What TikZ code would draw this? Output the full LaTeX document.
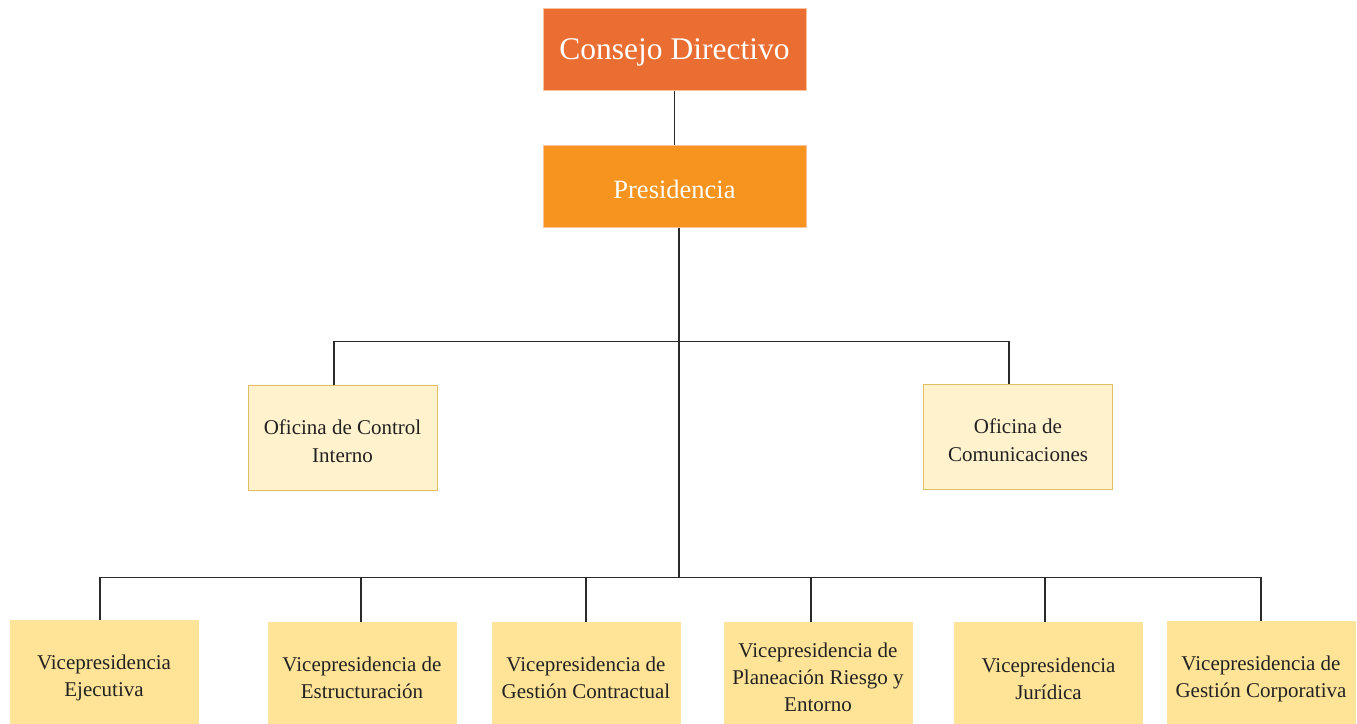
\documentclass[tikz,border=0pt]{standalone}
\usepackage{fontspec}
\setmainfont{Liberation Serif}
\definecolor{cdfill}{HTML}{EA6D31}
\definecolor{prfill}{HTML}{F79420}
\definecolor{topedge}{HTML}{F9C49C}
\definecolor{offill}{HTML}{FFF2CC}
\definecolor{ofedge}{HTML}{E0BE62}
\definecolor{vpfill}{HTML}{FFE497}
\definecolor{vpedge}{HTML}{FBE3A0}
\definecolor{linec}{HTML}{2B2B2B}
\definecolor{txt}{HTML}{222222}
\newcommand{\upst}[1]{\rule{0pt}{#1}}
\begin{document}
\begin{tikzpicture}[x=1pt,y=-1pt,
  topbox/.style={draw=topedge,line width=1pt,minimum width=263pt,minimum height=82pt,inner sep=0pt,text=white,align=center},
  ofbox/.style={draw=ofedge,fill=offill,line width=1pt,minimum width=189pt,minimum height=105pt,inner sep=0pt,text=txt,align=center,font=\fontsize{21}{28}\selectfont},
  vpbox/.style={draw=vpedge,fill=vpfill,line width=1pt,minimum width=188pt,minimum height=110pt,inner sep=0pt,text=txt,align=center,font=\fontsize{21}{27}\selectfont},
  conn/.style={draw=linec,line width=1.3pt}]
\useasboundingbox (0,0) rectangle (1357,723);
\fill[white] (0,0) rectangle (1357,723);
\begin{scope}
\clip (0,0) rectangle (1357,723);
\node[topbox,fill=cdfill,font=\fontsize{31.5}{36}\selectfont] (cd) at (674.5,49) {\upst{28pt}Consejo Directivo};
\node[topbox,fill=prfill,font=\fontsize{26.5}{30}\selectfont] (pr) at (674.5,186) {\upst{26pt}Presidencia};
\node[ofbox] (ofc) at (342.5,437.5) {\upst{22pt}Oficina de Control\\Interno};
\node[ofbox] (ofm) at (1018,436.5) {\upst{22pt}Oficina de\\Comunicaciones};
\node[vpbox] (ve) at (104,675) {\upst{21pt}Vicepresidencia\\Ejecutiva};
\node[vpbox] (ves) at (362,677) {\upst{17pt}Vicepresidencia de\\Estructuración};
\node[vpbox] (vgc) at (586,677) {\upst{17pt}Vicepresidencia de\\Gestión Contractual};
\node[vpbox] (vpr) at (818,677) {Vicepresidencia de\\Planeación Riesgo y\\Entorno};
\node[vpbox] (vj) at (1048.5,677) {\upst{19pt}Vicepresidencia\\Jurídica};
\node[vpbox] (vgo) at (1261,676) {\upst{21pt}Vicepresidencia de\\Gestión Corporativa};
\end{scope}
\coordinate (j1) at (679,342);
\coordinate (j2) at (679,578);
\draw[conn] (cd.south) -- (pr.north);
\draw[conn] ([xshift=4.5pt]pr.south) -- (j2);
\draw[conn] ([xshift=-8.5pt]ofc.north) -- ++(0,-43) -| ([xshift=-9pt]ofm.north);
\draw[conn] ([xshift=-4pt]ve.north) -- ++(0,-42) -| (vgo.north);
\draw[conn] ([xshift=-1pt]ves.north) -- ++(0,-44);
\draw[conn] (vgc.north) -- ++(0,-44);
\draw[conn] ([xshift=-7pt]vpr.north) -- ++(0,-44);
\draw[conn] ([xshift=-3.5pt]vj.north) -- ++(0,-44);
\end{tikzpicture}
\end{document}
